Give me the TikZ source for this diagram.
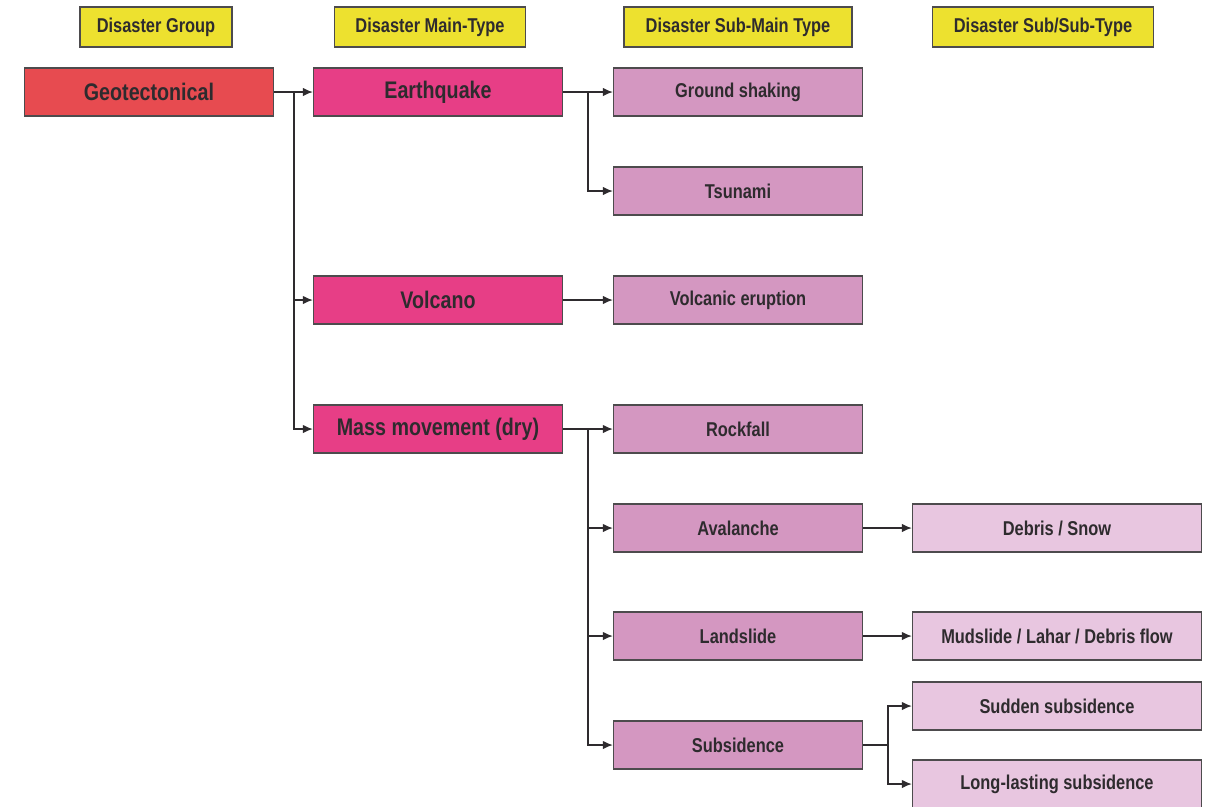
\documentclass[tikz,border=0pt]{standalone}
\usepackage{fontspec}
\setmainfont{Liberation Sans}[FakeStretch=0.82]
\usetikzlibrary{arrows.meta}
\definecolor{headyellow}{HTML}{EDE12F}
\definecolor{grpred}{HTML}{E74B50}
\definecolor{mainpink}{HTML}{E73E86}
\definecolor{subpink}{HTML}{D497C1}
\definecolor{subsubpink}{HTML}{E8C6E0}
\definecolor{inkgray}{HTML}{2E2B2E}
\tikzset{box/.style={draw=inkgray!85,line width=1.3pt,text=inkgray,font=\bfseries,inner sep=0pt},
         head/.style={box,fill=headyellow,minimum height=40pt,font=\bfseries\fontsize{20}{22}\selectfont},
         grpbox/.style={box,fill=grpred,minimum width=249pt,minimum height=48pt,font=\bfseries\fontsize{24}{26}\selectfont},
         mainbox/.style={box,fill=mainpink,minimum width=249pt,minimum height=48pt,font=\bfseries\fontsize{24}{26}\selectfont},
         subbox/.style={box,fill=subpink,minimum width=249pt,minimum height=48pt,font=\bfseries\fontsize{20}{22}\selectfont},
         subsubbox/.style={box,fill=subsubpink,minimum width=289pt,minimum height=48pt,font=\bfseries\fontsize{20}{22}\selectfont},
         link/.style={draw=inkgray,line width=1.4pt},
         ->/.style={link,-{Latex[length=10pt,width=8.5pt]}}}

\begin{document}
\begin{tikzpicture}[x=1pt,y=-1pt]
        \useasboundingbox(0,0)rectangle(1213,806);
        % column headers
        \node[head,minimum width=152pt](h1)at(156,27){Disaster Group};
        \node[head,minimum width=191pt](h2)at(430,27){Disaster Main-Type};
        \node[head,minimum width=228pt](h3)at(738,27){Disaster Sub-Main Type};
        \node[head,minimum width=221pt](h4)at(1043,27){Disaster Sub/Sub-Type};
        % group and main types
        \node[grpbox](geo)at(149,92){Geotectonical};
        \node[mainbox](eq)at(438,92){Earthquake};
        \node[mainbox](vol)at(438,300){Volcano};
        \node[mainbox](mm)at(438,429){Mass movement (dry)};
        % sub-main types
        \node[subbox](gs)at(738,92){Ground shaking};
        \node[subbox](ts)at(738,191){Tsunami};
        \node[subbox](ve)at(738,300){Volcanic eruption};
        \node[subbox](rf)at(738,429){Rockfall};
        \node[subbox](av)at(738,528){Avalanche};
        \node[subbox](ls)at(738,636){Landslide};
        \node[subbox](sd)at(738,745){Subsidence};
        % sub/sub-types
        \node[subsubbox](ds)at(1057,528){Debris / Snow};
        \node[subsubbox](mf)at(1057,636){Mudslide / Lahar / Debris flow};
        \node[subsubbox](ss)at(1057,706){Sudden subsidence};
        \node[subsubbox](lt)at(1057,784){Long-lasting subsidence};
        % connectors
        \coordinate(b1)at(294,92);
        \coordinate(b2)at(588,92);
        \coordinate(b3)at(588,429);
        \coordinate(b4)at(888,745);
        \draw[->](geo.east)--(eq.west);
        \draw[->](b1)|-(vol.west);
        \draw[->](b1)|-(mm.west);
        \draw[->](eq.east)--(gs.west);
        \draw[->](b2)|-(ts.west);
        \draw[->](vol.east)--(ve.west);
        \draw[->](mm.east)--(rf.west);
        \draw[->](b3)|-(av.west);
        \draw[->](b3)|-(ls.west);
        \draw[->](b3)|-(sd.west);
        \draw[->](av.east)--(ds.west);
        \draw[->](ls.east)--(mf.west);
        \draw[link](sd.east)--(b4);
        \draw[->](b4)|-(ss.west);
        \draw[->](b4)|-(lt.west);
    \end{tikzpicture}
\end{document}
